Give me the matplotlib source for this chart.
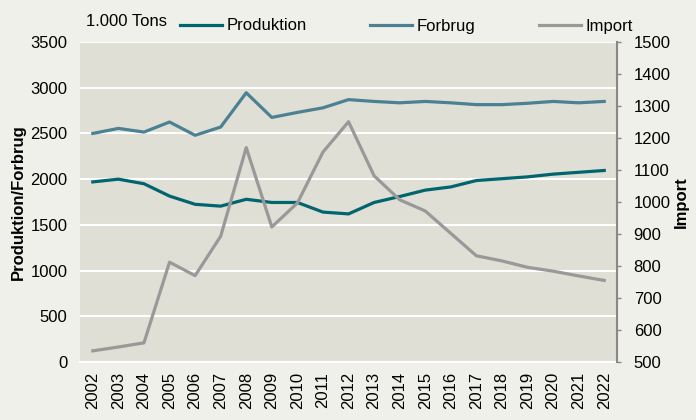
import matplotlib as mpl
mpl.use('Agg')
import matplotlib.pyplot as plt
from matplotlib.ticker import MultipleLocator

plt.rcParams['font.family'] = ['Liberation Sans', 'DejaVu Sans']

years = [str(y) for y in range(2002, 2023)]
produktion = [1970, 2000, 1950, 1815, 1725, 1705, 1780, 1745, 1745, 1640,
              1620, 1745, 1810, 1880, 1915, 1985, 2005, 2025, 2055, 2075, 2095]
forbrug = [2500, 2555, 2515, 2625, 2480, 2570, 2945, 2675, 2730, 2780,
           2870, 2850, 2835, 2850, 2835, 2815, 2815, 2830, 2850, 2835, 2850]
importen = [535, 547, 560, 812, 770, 893, 1170, 922, 997, 1156,
            1251, 1082, 1007, 972, 902, 832, 816, 796, 784, 769, 755]

fig_bg = '#f0f0ea'
ax_bg = '#dfdfd5'
c_prod = '#00656f'
c_forb = '#4b8192'
c_imp = '#999999'
fs = 12

fig = plt.figure(figsize=(6.96, 4.2), dpi=100, facecolor=fig_bg)
ax = fig.add_axes([0.115, 0.138, 0.7715, 0.762], facecolor=ax_bg)
ax2 = ax.twinx()

x = range(len(years))
l1, = ax.plot(x, produktion, color=c_prod, lw=2.3, label='Produktion')
l2, = ax.plot(x, forbrug, color=c_forb, lw=2.3, label='Forbrug')
l3, = ax2.plot(x, importen, color=c_imp, lw=2.3, label='Import')

ax.set_xlim(-0.5, len(years) - 0.5)
ax.set_ylim(0, 3500)
ax.yaxis.set_major_locator(MultipleLocator(500))
ax2.set_ylim(500, 1500)
ax2.yaxis.set_major_locator(MultipleLocator(100))

ax.set_xticks(list(x))
ax.set_xticklabels(years, rotation=90)
ax.grid(True, axis='y', color='white', lw=1.5)
ax.set_axisbelow(True)

for s in ['top', 'left', 'right']:
    ax.spines[s].set_visible(False)
ax.spines['bottom'].set_color('white')
ax.spines['bottom'].set_linewidth(1.5)
for s in ['top', 'left', 'bottom']:
    ax2.spines[s].set_visible(False)
ax2.spines['right'].set_color('#888888')
ax2.spines['right'].set_linewidth(1.5)

ax.tick_params(axis='both', length=0, labelsize=fs, colors='black')
ax.tick_params(axis='x', pad=7)
ax.tick_params(axis='y', pad=9)
ax2.tick_params(axis='y', length=3, width=1, color='#888888', labelsize=fs, pad=9)

ax.set_ylabel('Produktion/Forbrug', fontsize=fs, fontweight='bold', labelpad=3)
ax2.set_ylabel('Import', fontsize=fs, fontweight='bold', labelpad=2)

fig.text(86 / 696, 1 - 22 / 420, '1.000 Tons', fontsize=fs, va='center')
fig.legend([l1, l2, l3], ['Produktion', 'Forbrug', 'Import'],
           loc='center left', bbox_to_anchor=(180 / 696, 1 - 26 / 420), ncol=3,
           frameon=False, fontsize=fs, handlelength=2.5,
           handletextpad=0.3, columnspacing=3.8, borderaxespad=0,
           borderpad=0)

fig.savefig('out.png', dpi=100, facecolor=fig_bg)
